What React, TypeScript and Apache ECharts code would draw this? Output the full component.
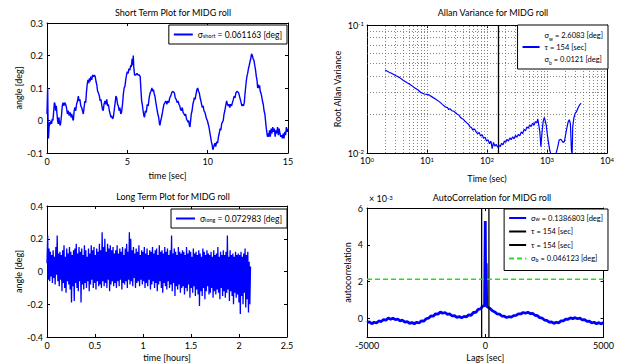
import React, { useEffect, useRef } from "react";
import * as echarts from "echarts";

const FONT = "Lato, 'DejaVu Sans', sans-serif";
const BLUE = "#0000ff";

// Short term roll angle [sec, deg]
const shortTerm: [number, number][] = [
  [0.0, 0.02], [0.04, 0.1], [0.07, -0.02], [0.09, -0.055], [0.13, -0.02], [0.17, -0.005], [0.21, -0.012], [0.25, 0.0],
  [0.29, -0.01], [0.33, 0.005], [0.37, 0.0], [0.42, 0.03], [0.46, 0.055], [0.5, 0.05], [0.54, 0.03], [0.58, 0.045],
  [0.62, 0.02], [0.66, 0.0], [0.7, -0.01], [0.74, 0.01], [0.78, -0.01], [0.83, -0.015], [0.87, 0.0], [0.91, 0.02],
  [0.95, 0.045], [1.0, 0.055], [1.05, 0.045], [1.1, 0.055], [1.16, 0.05], [1.21, 0.04], [1.27, 0.02], [1.33, 0.03],
  [1.38, 0.015], [1.44, 0.025], [1.5, 0.01], [1.54, 0.02], [1.6, 0.005], [1.64, 0.0], [1.69, 0.03], [1.74, 0.04],
  [1.79, 0.03], [1.84, 0.05], [1.9, 0.06], [1.95, 0.075], [2.0, 0.06], [2.05, 0.065], [2.1, 0.045], [2.16, 0.04],
  [2.21, 0.03], [2.26, 0.02], [2.31, 0.04], [2.36, 0.06], [2.41, 0.055], [2.46, 0.09], [2.5, 0.11], [2.55, 0.125],
  [2.6, 0.115], [2.64, 0.13], [2.68, 0.12], [2.73, 0.135], [2.78, 0.125], [2.84, 0.14], [2.9, 0.135], [2.95, 0.14],
  [3.0, 0.135], [3.05, 0.12], [3.1, 0.11], [3.15, 0.09], [3.2, 0.085], [3.26, 0.075], [3.31, 0.06], [3.36, 0.065],
  [3.4, 0.05], [3.45, 0.035], [3.5, 0.03], [3.55, 0.05], [3.61, 0.06], [3.66, 0.05], [3.72, 0.065], [3.77, 0.045],
  [3.82, 0.05], [3.88, 0.03], [3.93, 0.02], [3.98, 0.01], [4.02, 0.015], [4.08, 0.005], [4.13, 0.01], [4.18, 0.03],
  [4.23, 0.05], [4.29, 0.075], [4.34, 0.07], [4.39, 0.05], [4.44, 0.045], [4.49, 0.03], [4.54, 0.04], [4.59, 0.02],
  [4.64, 0.025], [4.7, 0.05], [4.75, 0.08], [4.8, 0.1], [4.85, 0.105], [4.9, 0.125], [4.95, 0.14], [5.0, 0.15],
  [5.05, 0.145], [5.1, 0.16], [5.16, 0.155], [5.21, 0.17], [5.25, 0.165], [5.3, 0.19], [5.34, 0.17], [5.37, 0.2],
  [5.4, 0.165], [5.45, 0.14], [5.52, 0.14], [5.6, 0.145], [5.67, 0.14], [5.75, 0.14], [5.8, 0.135], [5.84, 0.1],
  [5.89, 0.06], [5.93, 0.05], [5.98, 0.03], [6.03, 0.015], [6.07, 0.01], [6.12, 0.03], [6.18, 0.025], [6.24, 0.05],
  [6.3, 0.045], [6.36, 0.07], [6.42, 0.085], [6.47, 0.09], [6.53, 0.1], [6.58, 0.09], [6.63, 0.095], [6.68, 0.08],
  [6.72, 0.075], [6.76, 0.06], [6.81, 0.045], [6.86, 0.03], [6.9, 0.02], [6.95, 0.01], [7.0, -0.01], [7.03, -0.015],
  [7.08, 0.0], [7.13, 0.01], [7.17, 0.02], [7.22, 0.035], [7.28, 0.05], [7.34, 0.055], [7.4, 0.06], [7.46, 0.05],
  [7.52, 0.06], [7.58, 0.055], [7.64, 0.07], [7.7, 0.075], [7.76, 0.085], [7.82, 0.09], [7.87, 0.088], [7.93, 0.085],
  [7.98, 0.07], [8.04, 0.065], [8.1, 0.055], [8.16, 0.06], [8.21, 0.05], [8.26, 0.045], [8.31, 0.035], [8.36, 0.03],
  [8.42, 0.04], [8.47, 0.025], [8.53, 0.02], [8.58, 0.015], [8.63, 0.02], [8.68, 0.005], [8.73, 0.0], [8.78, -0.005],
  [8.82, 0.0], [8.86, -0.015], [8.9, -0.02], [8.94, 0.0], [8.98, 0.02], [9.03, 0.03], [9.08, 0.05], [9.13, 0.06],
  [9.17, 0.07], [9.22, 0.065], [9.27, 0.08], [9.33, 0.095], [9.38, 0.1], [9.43, 0.09], [9.48, 0.085], [9.53, 0.07],
  [9.58, 0.06], [9.62, 0.05], [9.67, 0.04], [9.72, 0.045], [9.77, 0.03], [9.83, 0.025], [9.88, 0.015], [9.93, 0.005],
  [9.98, 0.0], [10.03, -0.01], [10.08, -0.02], [10.13, -0.035], [10.18, -0.05], [10.23, -0.065], [10.28, -0.075], [10.32, -0.09],
  [10.36, -0.085], [10.41, -0.075], [10.45, -0.07], [10.5, -0.08], [10.56, -0.065], [10.62, -0.07], [10.67, -0.05], [10.72, -0.04],
  [10.77, -0.025], [10.82, -0.03], [10.87, -0.01], [10.92, -0.005], [10.97, 0.0], [11.02, 0.02], [11.07, 0.03], [11.12, 0.045],
  [11.18, 0.06], [11.23, 0.05], [11.28, 0.045], [11.33, 0.05], [11.38, 0.04], [11.43, 0.05], [11.49, 0.045], [11.54, 0.055],
  [11.6, 0.065], [11.65, 0.075], [11.7, 0.07], [11.76, 0.085], [11.82, 0.09], [11.87, 0.088], [11.93, 0.085], [11.98, 0.075],
  [12.03, 0.065], [12.08, 0.055], [12.13, 0.045], [12.18, 0.05], [12.23, 0.045], [12.28, 0.055], [12.32, 0.08], [12.36, 0.1],
  [12.4, 0.12], [12.44, 0.135], [12.49, 0.145], [12.54, 0.16], [12.59, 0.17], [12.63, 0.18], [12.68, 0.19], [12.73, 0.205],
  [12.78, 0.2], [12.83, 0.19], [12.88, 0.185], [12.93, 0.17], [12.98, 0.155], [13.03, 0.135], [13.07, 0.125], [13.11, 0.1],
  [13.15, 0.11], [13.19, 0.1], [13.23, 0.108], [13.27, 0.09], [13.31, 0.085], [13.36, 0.075], [13.41, 0.06], [13.46, 0.05],
  [13.51, 0.03], [13.56, 0.02], [13.6, 0.0], [13.64, -0.02], [13.68, -0.035], [13.72, -0.05], [13.76, -0.04], [13.8, -0.05],
  [13.85, -0.03], [13.9, -0.05], [13.95, -0.025], [14.0, -0.04], [14.05, -0.02], [14.1, -0.035], [14.15, -0.025], [14.2, -0.05],
  [14.25, -0.03], [14.3, -0.04], [14.35, -0.02], [14.4, -0.045], [14.45, -0.025], [14.5, -0.04], [14.55, -0.05], [14.6, -0.045],
  [14.65, -0.055], [14.7, -0.04], [14.75, -0.055], [14.8, -0.035], [14.85, -0.045], [14.9, -0.02], [14.95, -0.035], [15.0, -0.025],
];

// Long term roll angle [deg], evenly sampled over the recording
const longTermDurationHours = 2.12;
const longTerm: number[] = [
  0.05, 0.22, -0.05, 0.14, -0.06, 0.12, -0.03, 0.1, -0.07, 0.13, -0.04, 0.09, -0.08, 0.15, -0.02, 0.22, -0.06, 0.11, -0.09, 0.12,
  -0.05, 0.1, -0.12, 0.13, -0.07, 0.16, -0.1, 0.09, -0.13, 0.14, -0.06, 0.11, -0.08, 0.15, -0.11, 0.12, -0.19, 0.1, -0.09, 0.13,
  -0.18, 0.14, -0.07, 0.17, -0.1, 0.11, -0.12, 0.15, -0.06, 0.12, -0.19, 0.14, -0.08, 0.1, -0.11, 0.16, -0.07, 0.13, -0.1, 0.09,
  -0.06, 0.14, -0.12, 0.11, -0.08, 0.16, -0.05, 0.13, -0.1, 0.15, -0.07, 0.1, -0.11, 0.14, -0.06, 0.12, -0.09, 0.17, -0.08, 0.13,
  -0.1, 0.24, -0.06, 0.15, -0.09, 0.2, -0.07, 0.12, -0.1, 0.17, -0.05, 0.14, -0.12, 0.16, -0.08, 0.13, -0.06, 0.15, -0.09, 0.11,
  -0.07, 0.13, -0.1, 0.16, -0.06, 0.11, -0.09, 0.14, -0.05, 0.12, -0.11, 0.15, -0.07, 0.1, -0.08, 0.14, -0.06, 0.17, -0.1, 0.12,
  -0.05, 0.24, -0.08, 0.2, -0.06, 0.13, -0.09, 0.15, -0.04, 0.11, -0.1, 0.14, -0.07, 0.12, -0.06, 0.16, -0.09, 0.1, -0.05, 0.13,
  -0.08, 0.12, -0.06, 0.15, -0.1, 0.11, -0.07, 0.14, -0.09, 0.1, -0.05, 0.13, -0.11, 0.12, -0.08, 0.15, -0.06, 0.11, -0.1, 0.13,
  -0.07, 0.14, -0.12, 0.1, -0.08, 0.16, -0.06, 0.12, -0.1, 0.13, -0.13, 0.11, -0.07, 0.15, -0.09, 0.12, -0.11, 0.14, -0.06, 0.1,
  -0.1, 0.13, -0.08, 0.22, -0.12, 0.11, -0.07, 0.14, -0.15, 0.12, -0.09, 0.1, -0.11, 0.15, -0.08, 0.12, -0.13, 0.11, -0.1, 0.13,
  -0.09, 0.12, -0.14, 0.1, -0.1, 0.15, -0.12, 0.11, -0.08, 0.13, -0.16, 0.12, -0.1, 0.09, -0.13, 0.14, -0.09, 0.11, -0.15, 0.12,
  -0.11, 0.1, -0.14, 0.13, -0.21, 0.11, -0.12, 0.09, -0.15, 0.14, -0.1, 0.12, -0.17, 0.1, -0.12, 0.13, -0.09, 0.11, -0.14, 0.1,
  -0.13, 0.12, -0.1, 0.09, -0.16, 0.13, -0.12, 0.1, -0.14, 0.11, -0.11, 0.15, -0.13, 0.09, -0.17, 0.12, -0.1, 0.1, -0.15, 0.13,
  -0.12, 0.1, -0.16, 0.12, -0.13, 0.22, -0.11, 0.09, -0.18, 0.13, -0.12, 0.1, -0.15, 0.11, -0.2, 0.09, -0.13, 0.12, -0.16, 0.1,
  -0.14, 0.11, -0.19, 0.1, -0.26, 0.12, -0.15, 0.09, -0.2, 0.11, -0.13, 0.14, -0.22, 0.1, -0.17, 0.12, -0.25, 0.06, -0.2, 0.03,
];

// Root Allan variance [cluster time sec, deg]
const allan: [number, number][] = [
  [2.0, 0.0445], [2.3, 0.043], [2.6, 0.0418], [3.0, 0.0403], [3.5, 0.0388], [4.0, 0.037], [4.6, 0.0355], [5.3, 0.0341],
  [6.0, 0.0327], [7.0, 0.0312], [8.0, 0.0296], [9.0, 0.0289], [10, 0.0287], [11, 0.0283], [12.5, 0.0272], [14, 0.0263],
  [16, 0.0252], [18, 0.024], [20, 0.023], [22, 0.0226], [23, 0.0218], [24, 0.0222], [26, 0.0214], [28, 0.0212],
  [30, 0.0206], [32, 0.0201], [34, 0.0198], [36, 0.019], [38, 0.0186], [40, 0.0184], [43, 0.0177], [46, 0.0172],
  [49, 0.0168], [52, 0.016], [55, 0.0158], [58, 0.0151], [62, 0.0154], [66, 0.0146], [70, 0.0141], [74, 0.0145],
  [78, 0.0136], [83, 0.0139], [88, 0.013], [93, 0.0133], [98, 0.0124], [104, 0.0127], [110, 0.0118], [116, 0.0124],
  [122, 0.0108], [128, 0.0121], [135, 0.0113], [142, 0.0117], [150, 0.0111], [158, 0.0115], [166, 0.0112], [175, 0.0119],
  [185, 0.0116], [195, 0.0124], [205, 0.0121], [215, 0.0128], [228, 0.0124], [240, 0.0131], [253, 0.0127], [267, 0.0134],
  [282, 0.0129], [298, 0.0137], [315, 0.0133], [333, 0.014], [352, 0.0136], [372, 0.0146], [393, 0.0142], [415, 0.0153],
  [438, 0.0149], [462, 0.016], [488, 0.0156], [515, 0.0166], [544, 0.0161], [575, 0.0171], [607, 0.0165], [641, 0.0176],
  [677, 0.0172], [700, 0.0185], [725, 0.0168], [760, 0.0145], [790, 0.0112], [820, 0.014], [860, 0.0175], [900, 0.019],
  [930, 0.018], [970, 0.0165], [1010, 0.014], [1060, 0.012], [1110, 0.0105], [1160, 0.0098], [1220, 0.0092], [1300, 0.0094],
  [1400, 0.0098], [1500, 0.011], [1590, 0.0126], [1700, 0.0128], [1850, 0.0121], [1950, 0.0123], [2100, 0.015], [2250, 0.0175],
  [2350, 0.0182], [2450, 0.017], [2550, 0.0105], [2620, 0.0098], [2680, 0.016], [2800, 0.0188], [2950, 0.0205], [3100, 0.021],
  [3300, 0.0226], [3500, 0.0238], [3700, 0.0245],
];

const correlationTime = 154; // [sec]
const sigmaBLevel = 2.13; // ×10⁻³

// Autocorrelation [lag sec, ×10⁻³]
const autoCorr: [number, number][] = [
  [-5000, -0.22], [-4900, -0.17], [-4800, -0.28], [-4700, -0.2], [-4600, -0.24], [-4500, -0.13], [-4400, -0.16], [-4300, -0.06],
  [-4200, -0.09], [-4100, 0.03], [-4000, -0.04], [-3900, 0.02], [-3800, -0.06], [-3700, -0.03], [-3600, -0.12], [-3500, -0.09],
  [-3400, -0.19], [-3300, -0.16], [-3200, -0.26], [-3100, -0.21], [-3000, -0.28], [-2900, -0.2], [-2800, -0.24], [-2700, -0.12],
  [-2600, -0.14], [-2500, -0.01], [-2400, 0.02], [-2300, 0.14], [-2200, 0.13], [-2100, 0.26], [-2000, 0.24], [-1900, 0.35],
  [-1800, 0.29], [-1700, 0.33], [-1600, 0.23], [-1500, 0.25], [-1400, 0.14], [-1300, 0.16], [-1200, 0.06], [-1100, 0.11],
  [-1000, 0.04], [-900, 0.12], [-800, 0.09], [-700, 0.2], [-600, 0.18], [-500, 0.33], [-400, 0.34], [-300, 0.5],
  [-200, 0.52], [-100, 0.7], [-50, 0.66], [-30, 0.75], [0, 5.3], [20, 0.78], [40, 3.0], [60, 0.68],
  [100, 0.62], [200, 0.55], [300, 0.42], [400, 0.36], [500, 0.26], [600, 0.24], [700, 0.14], [800, 0.13],
  [900, 0.06], [1000, 0.1], [1100, 0.08], [1200, 0.16], [1300, 0.17], [1400, 0.26], [1500, 0.25], [1600, 0.33],
  [1700, 0.29], [1800, 0.34], [1900, 0.27], [2000, 0.28], [2100, 0.18], [2200, 0.16], [2300, 0.05], [2400, 0.03],
  [2500, -0.08], [2600, -0.1], [2700, -0.19], [2800, -0.18], [2900, -0.26], [3000, -0.2], [3100, -0.23], [3200, -0.13],
  [3300, -0.12], [3400, -0.03], [3500, -0.04], [3600, 0.04], [3700, 0.0], [3800, 0.05], [3900, -0.01], [4000, 0.02],
  [4100, -0.07], [4200, -0.06], [4300, -0.15], [4400, -0.14], [4500, -0.23], [4600, -0.2], [4700, -0.28], [4800, -0.22],
  [4900, -0.29], [5000, -0.21],
];

const titles = [
  "Short Term Plot for MIDG roll",
  "Allan Variance for MIDG roll",
  "Long Term Plot for MIDG roll",
  "AutoCorrelation for MIDG roll",
];

const legendText: Record<string, string> = {
  short: "σ{sub|short} = 0.061163 [deg]",
  long: "σ{sub|long} = 0.072983 [deg]",
  allan: "σ{sub|w} = 2.6083 [deg]\nτ = 154 [sec]\nσ{sub|b} = 0.0121 [deg]",
  acf: "σ{sub|w} = 0.1386803 [deg]",
  tauLeft: "τ = 154 [sec]",
  tauRight: "τ = 154 [sec]",
  sigmaB: "σ{sub|b} = 0.046123 [deg]",
};

const lineAxis = { show: true, onZero: false, lineStyle: { color: "#000", width: 1 } };
const nameStyle = { color: "#000", fontSize: 9, fontFamily: FONT };
const labelBase = { color: "#000", fontSize: 9, fontFamily: FONT, margin: 4 };
const powRich = { e: { fontSize: 6, fontFamily: FONT, color: "#000", verticalAlign: "top", lineHeight: 9 } };
const powLabel = (v: number) => `10{e|${Math.round(Math.log10(v))}}`;

function axisPair(kind: "x" | "y", gridIndex: number, cfg: any) {
  const { name, nameGap, label, ticks, ...scale } = cfg;
  const tick: any = { show: true, inside: true, length: 3, lineStyle: { color: "#000" } };
  if (ticks) tick.customValues = ticks;
  const main = {
    gridIndex,
    ...scale,
    position: kind === "x" ? "bottom" : "left",
    name,
    nameLocation: "middle",
    nameGap,
    nameTextStyle: nameStyle,
    axisLine: lineAxis,
    axisTick: tick,
    splitLine: { show: false },
    axisLabel: { ...labelBase, ...(label || {}), ...(ticks ? { customValues: ticks } : {}) },
  };
  const mirror = {
    gridIndex,
    ...scale,
    position: kind === "x" ? "top" : "right",
    axisLine: lineAxis,
    axisTick: tick,
    splitLine: { show: false },
    axisLabel: { show: false, ...(ticks ? { customValues: ticks } : {}) },
  };
  return [main, mirror];
}

const legendBox = (key: string[], pos: any, font: number, extra: any = {}) => ({
  ...pos,
  z: 10,
  data: key,
  orient: "vertical",
  backgroundColor: "#fff",
  borderColor: "#000",
  borderWidth: 1,
  borderRadius: 0,
  padding: [5, 5, 5, 4],
  itemWidth: 19,
  itemHeight: 10,
  itemGap: 4,
  itemStyle: { opacity: 0 },
  formatter: (n: string) => legendText[n],
  textStyle: {
    color: "#000",
    fontSize: font,
    fontFamily: FONT,
    rich: { sub: { fontSize: 5.5, fontFamily: FONT, color: "#000", verticalAlign: "bottom" } },
  },
  ...extra,
});

// Dotted log grid positions for the Allan panel
const decades = [1, 10, 100, 1000];
const mantissas = [1, 2, 3, 4, 5, 6, 7, 8, 9];
const allanGrid = [
  ...decades.flatMap((d) => mantissas.map((m) => m * d)).filter((v) => v > 1).map((v) => ({ xAxis: v })),
  ...mantissas.slice(1).map((m) => ({ yAxis: m * 0.01 })),
];

export default function App() {
  const ref = useRef<HTMLDivElement>(null);

  useEffect(() => {
    if (!ref.current) return;
    const chart = echarts.init(ref.current, null, { renderer: "svg" });

    const longStep = longTermDurationHours / (longTerm.length - 1);

    const xAxes = [
      ...axisPair("x", 0, { type: "value", min: 0, max: 15, interval: 5, name: "time [sec]", nameGap: 18 }),
      ...axisPair("x", 1, {
        type: "log", logBase: 10, min: 1, max: 10000, name: "Time (sec)", nameGap: 21,
        label: { formatter: powLabel, rich: powRich, margin: 3 },
      }),
      ...axisPair("x", 2, { type: "value", min: 0, max: 2.5, interval: 0.5, name: "time [hours]", nameGap: 16 }),
      ...axisPair("x", 3, {
        type: "value", min: -5000, max: 5000, interval: 5000, name: "Lags [sec]", nameGap: 16,
        label: { formatter: (v: number) => String(v) },
      }),
    ];
    const yAxes = [
      ...axisPair("y", 0, { type: "value", min: -0.1, max: 0.3, interval: 0.1, name: "angle [deg]", nameGap: 22 }),
      ...axisPair("y", 1, {
        type: "log", logBase: 10, min: 0.01, max: 0.1, name: "Root Allan Variance", nameGap: 25,
        label: { formatter: powLabel, rich: powRich, margin: 3 },
      }),
      ...axisPair("y", 2, { type: "value", min: -0.4, max: 0.4, interval: 0.2, name: "angle [deg]", nameGap: 22 }),
      ...axisPair("y", 3, { type: "value", min: -1, max: 6, ticks: [0, 2, 4, 6], name: "autocorrelation", nameGap: 15 }),
    ];

    chart.setOption({
      animation: false,
      backgroundColor: "#fff",
      title: titles.map((t, i) => ({
        text: t,
        left: [168, 488, 168, 487][i],
        top: [3, 3, 187, 188][i],
        textAlign: "center",
        textStyle: { fontSize: 9, fontWeight: "normal", color: "#000", fontFamily: FONT },
      })),
      grid: [
        { left: 47, top: 23, width: 241, height: 130 },
        { left: 367, top: 25, width: 241, height: 128 },
        { left: 47, top: 206, width: 240, height: 131 },
        { left: 367, top: 208, width: 243, height: 129 },
      ],
      xAxis: xAxes,
      yAxis: yAxes,
      legend: [
        legendBox(["short"], { right: 330, top: 25 }, 8.5),
        legendBox(["allan"], { right: 9, top: 25 }, 7.5, {
          itemWidth: 17,
          padding: [4, 5, 4, 4],
          textStyle: {
            color: "#000", fontSize: 7.5, fontFamily: FONT, lineHeight: 12,
            rich: { sub: { fontSize: 5, fontFamily: FONT, color: "#000", verticalAlign: "bottom", lineHeight: 12 } },
          },
        }),
        legendBox(["long"], { right: 330, top: 209 }, 8.5),
        legendBox(["acf", "tauLeft", "tauRight", "sigmaB"], { right: 9, top: 209 }, 7.5, {
          itemWidth: 17,
          itemHeight: 9,
          itemGap: 5.5,
          padding: [5, 5, 8, 4],
        }),
      ],
      graphic: [
        {
          type: "text",
          left: 369,
          top: 194,
          style: {
            text: "× 10{e|-3}",
            fill: "#000",
            font: `9px ${FONT}`,
            rich: { e: { fontSize: 6, fontFamily: FONT, fill: "#000", verticalAlign: "top", lineHeight: 9 } },
          },
        },
      ],
      series: [
        {
          name: "short", type: "line", xAxisIndex: 0, yAxisIndex: 0, symbol: "none",
          data: shortTerm, lineStyle: { color: BLUE, width: 1.4 }, itemStyle: { color: BLUE },
        },
        {
          name: "allan", type: "line", xAxisIndex: 2, yAxisIndex: 2, symbol: "none",
          data: allan, lineStyle: { color: BLUE, width: 1.2 }, itemStyle: { color: BLUE },
          markLine: {
            z: 1,
            silent: true, symbol: ["none", "none"], label: { show: false }, animation: false,
            lineStyle: { color: "#666", type: [1, 2], width: 0.8 },
            data: [
              ...allanGrid,
              { xAxis: correlationTime, lineStyle: { color: "#000", type: "solid", width: 1.3 } },
            ],
          },
        },
        {
          name: "long", type: "line", xAxisIndex: 4, yAxisIndex: 4, symbol: "none",
          data: longTerm.map((v, i) => [i * longStep, v]),
          lineStyle: { color: BLUE, width: 1.3 }, itemStyle: { color: BLUE },
        },
        {
          name: "acf", type: "line", xAxisIndex: 6, yAxisIndex: 6, symbol: "none",
          data: autoCorr, lineStyle: { color: BLUE, width: 2.8 }, itemStyle: { color: BLUE }, z: 3,
        },
        {
          name: "tauLeft", type: "line", xAxisIndex: 6, yAxisIndex: 6, symbol: "none",
          data: [[-correlationTime, -1], [-correlationTime, 6]],
          lineStyle: { color: "#000", width: 1.3 }, itemStyle: { color: "#000" },
        },
        {
          name: "tauRight", type: "line", xAxisIndex: 6, yAxisIndex: 6, symbol: "none",
          data: [[correlationTime, -1], [correlationTime, 6]],
          lineStyle: { color: "#000", width: 1.3 }, itemStyle: { color: "#000" },
        },
        {
          name: "sigmaB", type: "line", xAxisIndex: 6, yAxisIndex: 6, symbol: "none",
          data: [[-5000, sigmaBLevel], [5000, sigmaBLevel]],
          lineStyle: { color: "#22dd22", width: 1.4, type: [5, 3] }, itemStyle: { color: "#22dd22" },
        },
      ],
    });

    return () => chart.dispose();
  }, []);

  return (
    <div
      ref={ref}
      style={{ position: "absolute", left: 0, top: 0, width: 617, height: 364, background: "#fff" }}
    />
  );
}
